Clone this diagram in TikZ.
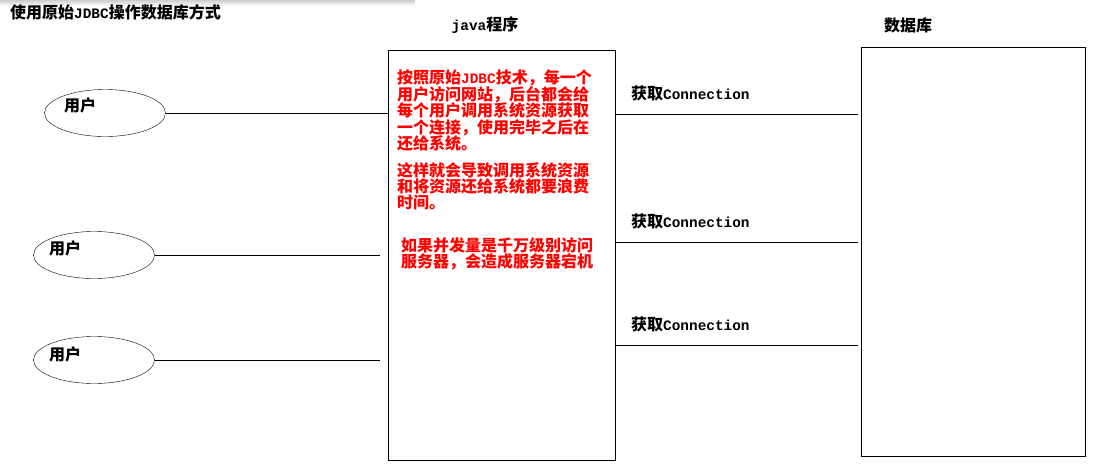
\documentclass[tikz,border=0pt]{standalone}
\usepackage{fontspec}
\usepackage{tikz}
\setmainfont{Noto Sans CJK SC}
\newfontfamily\lat[Scale=0.9]{Liberation Mono}
\usetikzlibrary{positioning,shapes.geometric}
\definecolor{warn}{RGB}{255,0,0}
\definecolor{shadow}{RGB}{205,205,205}

\begin{document}
\begin{tikzpicture}[x=1pt,y=-1pt,
  txt/.style={font=\fontsize{16}{16.4}\selectfont\bfseries, inner sep=0pt},
  user/.style={draw, ellipse, minimum width=121pt, minimum height=47pt, inner sep=0pt},
  box/.style={draw, rectangle, inner sep=0pt},
  note/.style={txt, color=warn, align=left, anchor=north west}]
\useasboundingbox (0,0) rectangle (1098,474);
% 顶部阴影
\shade[top color=shadow, bottom color=white] (0,0) rectangle (415,6);

% 标题
\node[txt, anchor=west] (title) at (10,12) {使用原始{\lat JDBC}操作数据库方式};

% java程序 和 数据库
\node[box, minimum width=227pt, minimum height=410pt] (java) at (501.5,255) {};
\node[txt] (javat) at (485,25) {{\lat java}程序};
\node[box, minimum width=224pt, minimum height=409pt] (db) at (973,251.5) {};
\node[txt] (dbt) at (908,25) {数据库};

% 用户
\node[user] (u1) at (105,113) {};
\node[user] (u2) at (94,255) {};
\node[user] (u3) at (94,360) {};
\foreach \u/\dx/\dy in {u1/-25/-8, u2/-29/-7, u3/-29/-6} {
    \node[txt] (\u t) at ([shift={(\dx,\dy)}]\u.center) {用户};
}
\draw (u1.east) -- (u1.east -| java.west);
\draw[shorten >=8pt] (u2.east) -- (u2.east -| java.west);
\draw[shorten >=8pt] (u3.east) -- (u3.east -| java.west);

% 获取Connection
\foreach \y [count=\i] in {114,242,345} {
    \draw (java.east |- 0,\y) -- ([xshift=-3pt]db.west |- 0,\y);
    \node[txt, anchor=west] (get\i) at (631,\y-21) {获取{\lat Connection}};
}

% 说明文字
\node[note] (p1) at (397,69) {按照原始{\lat JDBC}技术，每一个\\用户访问网站，后台都会给\\每个用户调用系统资源获取\\一个连接，使用完毕之后在\\还给系统。};
\node[note] (p2) at (397,162) {这样就会导致调用系统资源\\和将资源还给系统都要浪费\\时间。};
\node[note] (p3) at (401,237) {如果并发量是千万级别访问\\服务器，会造成服务器宕机};
\end{tikzpicture}
\end{document}
